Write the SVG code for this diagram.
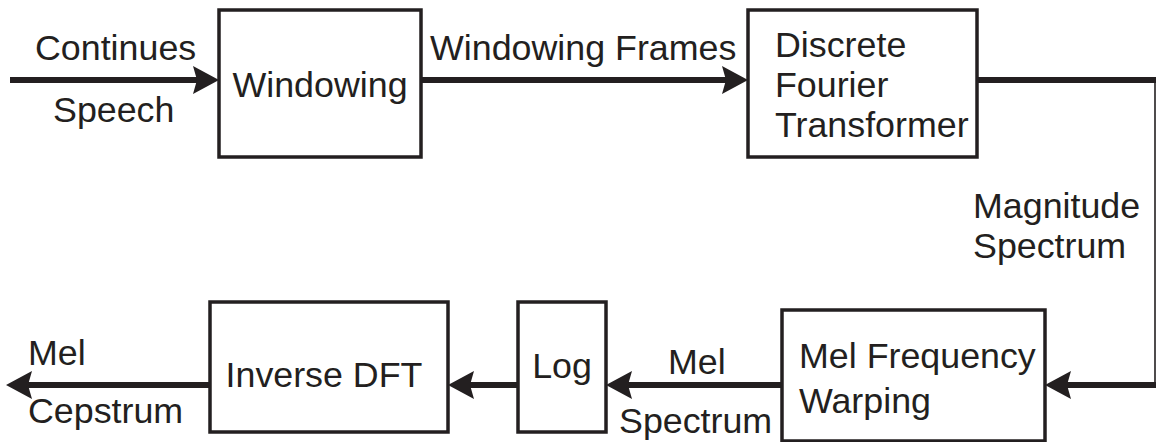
<svg xmlns="http://www.w3.org/2000/svg" width="1156" height="442" viewBox="0 0 1156 442">
<style>
.box{fill:#ffffff;stroke:#231f20;stroke-width:3.5}
.t{font-family:"Liberation Sans",Arial,sans-serif;font-size:35.8px;fill:#231f20}
.m{text-anchor:middle}
.thick{fill:none;stroke:#231f20;stroke-width:6}
.thin{fill:none;stroke:#231f20;stroke-width:1.6}
</style>
<defs>
<marker id="ah" viewBox="0 0 26 28" markerWidth="26" markerHeight="28" refX="6" refY="14" orient="auto" markerUnits="userSpaceOnUse">
<path d="M0,0 L26,14 L0,28 L4,14 Z" fill="#231f20"/>
</marker>
</defs>
<rect width="1156" height="442" fill="#ffffff"/>
<g id="connectors">
<path class="thick" d="M10,80 H199" marker-end="url(#ah)"/>
<path class="thick" d="M421,80 H728" marker-end="url(#ah)"/>
<path class="thick" d="M977,80 H1156"/>
<path class="thin" d="M1155,80 V385"/>
<path class="thick" d="M1156,385 H1065" marker-end="url(#ah)"/>
<path class="thick" d="M782,385 H626" marker-end="url(#ah)"/>
<path class="thick" d="M518,385 H468" marker-end="url(#ah)"/>
<path class="thick" d="M210,385 H26" marker-end="url(#ah)"/>
</g>
<g id="labels">
<text class="t" x="35" y="60">Continues</text>
<text class="t" x="53" y="122">Speech</text>
<text class="t" x="430" y="60">Windowing Frames</text>
<text class="t" x="973" y="218">Magnitude</text>
<text class="t" x="973" y="258">Spectrum</text>
<text class="t" x="668" y="374">Mel</text>
<text class="t" x="619" y="433">Spectrum</text>
<text class="t" x="28" y="365">Mel</text>
<text class="t" x="28" y="423">Cepstrum</text>
</g>
<g id="windowing">
<rect class="box" x="219" y="10" width="202" height="147"/>
<text class="t m" x="320" y="97">Windowing</text>
</g>
<g id="dft">
<rect class="box" x="748" y="10" width="229" height="147"/>
<text class="t" x="775" y="57">Discrete</text>
<text class="t" x="775" y="97">Fourier</text>
<text class="t" x="775" y="137">Transformer</text>
</g>
<g id="melwarp">
<rect class="box" x="782" y="310" width="263" height="131"/>
<text class="t" x="799" y="368">Mel Frequency</text>
<text class="t" x="799" y="413">Warping</text>
</g>
<g id="log">
<rect class="box" x="518" y="302" width="88" height="130"/>
<text class="t m" x="562" y="378">Log</text>
</g>
<g id="idft">
<rect class="box" x="210" y="302" width="238" height="130"/>
<text class="t m" x="324" y="387">Inverse DFT</text>
</g>
</svg>
